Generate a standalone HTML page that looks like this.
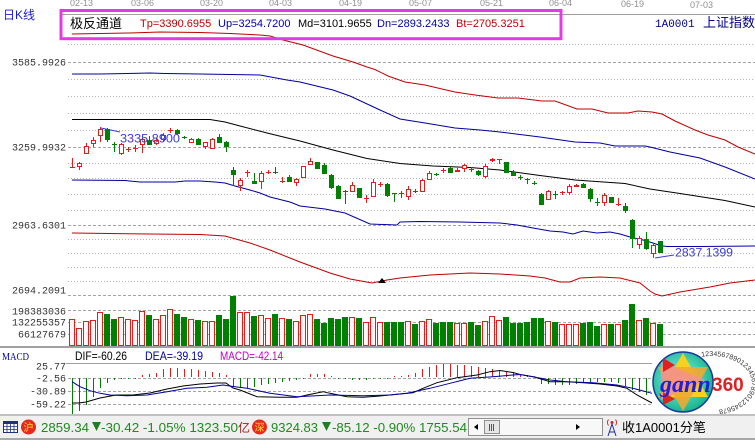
<!DOCTYPE html>
<html><head><meta charset="utf-8"><style>
html,body{margin:0;padding:0;background:#fff;overflow:hidden}
svg{display:block}
</style></head><body>
<svg xmlns="http://www.w3.org/2000/svg" width="755" height="440" viewBox="0 0 755 440" font-family="Liberation Sans, Noto Sans CJK SC, sans-serif">
<defs>
<radialGradient id="lg" cx=".45" cy=".45" r=".6"><stop offset="0" stop-color="#8ff0ff"/><stop offset="1" stop-color="#10b080"/></radialGradient>
</defs>
<rect width="755" height="440" fill="#fff"/>

<!-- date labels -->
<g font-size="9" fill="#909090">
<text x="70" y="6">02-13</text><text x="131" y="6">03-06</text><text x="200" y="6">03-20</text><text x="269" y="6">04-03</text><text x="339" y="6">04-19</text><text x="409" y="6">05-07</text><text x="480" y="6">05-21</text><text x="549" y="6">06-04</text><text x="621" y="7">06-19</text><text x="690" y="8">07-03</text>
</g>
<path d="M62 14.5H755" stroke="#a0a0a0"/>
<text x="3" y="19" font-size="12" fill="#1c1ccc">日K线</text>

<!-- grid -->
<g stroke="#b4b4b4" stroke-dasharray="1 2" shape-rendering="crispEdges">
<path d="M68 44.5H755M68 79.5H755M68 96.5H755M68 113.5H755M68 130.5H755M68 163.5H755M68 178.5H755M68 194.5H755M68 210.5H755M68 239.5H755M68 253.5H755M68 267.5H755M68 281.5H755"/>
</g>
<g stroke="#a4a4a4" stroke-dasharray="3 2" shape-rendering="crispEdges">
<path d="M68 62.5H755M68 147.5H755M68 225.5H755M68 295.5H755M68 310.5H755M68 322.5H755M68 334.5H755M68 378.5H652M68 391.5H652M68 404.5H652"/>
</g>
<path d="M66 363.5H652" stroke="#a0a0a0" shape-rendering="crispEdges"/>

<!-- axis labels -->
<g font-family="Liberation Mono, monospace" font-size="10" fill="#333" text-anchor="end">
<text x="66" y="65.5">3585.9926</text>
<text x="66" y="150.5">3259.9932</text>
<text x="66" y="228.5">2963.6301</text>
<text x="66" y="293.5">2694.2091</text>
<text x="66" y="314.5">198383036</text>
<text x="66" y="325.5">132255357</text>
<text x="66" y="337.5">66127679</text>
<text x="66" y="369.5">25.77</text>
<text x="66" y="381.5">-2.56</text>
<text x="66" y="394.5">-30.89</text>
<text x="66" y="407.5">-59.22</text>
</g>

<!-- channel lines -->
<g fill="none" stroke-width="1">
<polyline stroke="#c00000" points="72,34 100,33.5 130,33 160,32 200,32.5 230,33.5 260,35 270,36 283,40 303,45 333,56 353,62 367,67 375,69.5 388,76 405,82 425,85 442,89 455,92 475,95 498,98 518,98 542,101 555,101 577,109 592,109 608,113 628,113 638,111 652,112 662,114 675,121 695,130 708,135 725,140 738,147 755,154"/>
<polyline stroke="#0000a0" points="72,74 100,74 150,73 165,73.5 200,74 230,74.5 260,75 287,80 300,82 333,90 350,96 365,103 380,110 400,119 425,123 455,128 480,130 500,132 540,137 575,142 600,143 615,146 645,146 650,147 670,152 700,158 725,167 755,179"/>
<polyline stroke="#000" points="72,119.5 210,119.5 225,122 240,126 267,133 300,141 333,150 367,158.5 400,163.5 433,166 470,167.5 500,170 540,175.5 575,180 625,183.5 650,189 680,193.5 725,200.5 755,207"/>
<polyline stroke="#0000a0" points="72,180 125,180.5 140,182 175,182 185,181 200,181 215,182 225,183 235,186 250,190 260,193 270,197 290,202 300,206 325,209 345,213 370,224 397,225 400,222 420,221.5 460,222 500,223 517,225 533,228 550,231 563,232 573,234 583,231 597,233 610,232 620,234 630,237 643,240 653,243 660,245.5 667,246.5 700,246.5 755,246"/>
<polyline stroke="#c00000" points="72,233 150,234 200,234.5 225,236 250,243 270,250 300,262 330,273 350,279 372,283 387,280 400,278 430,275 470,273 500,274 530,276 545,278 560,282 570,282 580,278 600,277 620,278 640,283 650,291 655,294 662,296 680,292 710,287 730,283 755,280"/>
</g>
<polygon points="378,283 386,283 382,278" fill="#000"/>

<!-- candles -->
<g shape-rendering="crispEdges">
<path stroke="#008000" fill="none" d="M107.5 128V142M114.5 142V152M149.5 136V145M177.5 129V135M184.5 136V139M198.5 138V145M219.5 134V143M226.5 141V152M233.5 167V186M254.5 173V184M275.5 167V174M289.5 175V182M317.5 162V168M324.5 163V174M331.5 174V189M338.5 185V198M345.5 190V204M359.5 188V198M387.5 183V197M394.5 193V202M401.5 191V198M415.5 189V193M436.5 173V176M450.5 167V173M471.5 167V172M478.5 170V176M506.5 162V172M513.5 170V176M520.5 175V180M527.5 178V184M534.5 181V185M541.5 193V205M555.5 191V199M583.5 183V187M590.5 188V202M597.5 198V206M611.5 197V203M625.5 203V213M632.5 219V248M646.5 232V250M660.5 241V253"/>
<path fill="#008000" d="M105 129h5V140h-5ZM112 144h5v1h-5ZM147 140h5V145h-5ZM175 130h5V134h-5ZM182 137h5v1h-5ZM196 139h5V145h-5ZM217 137h5V143h-5ZM224 142h5V147h-5ZM231 170h5V175h-5ZM252 181h5V184h-5ZM273 172h5v1h-5ZM287 177h5V182h-5ZM315 162h5V169h-5ZM322 165h5V174h-5ZM329 175h5V188h-5ZM336 186h5V199h-5ZM343 191h5v1h-5ZM357 188h5V198h-5ZM385 184h5V196h-5ZM392 193h5v1h-5ZM399 193h5v1h-5ZM413 191h5v1h-5ZM434 174h5v1h-5ZM448 168h5V173h-5ZM469 169h5v1h-5ZM476 171h5V175h-5ZM504 162h5V173h-5ZM511 172h5V176h-5ZM518 177h5v1h-5ZM525 179h5v1h-5ZM532 183h5v1h-5ZM539 194h5V205h-5ZM553 194h5v1h-5ZM581 184h5V188h-5ZM588 189h5V199h-5ZM595 202h5v1h-5ZM609 197h5V203h-5ZM623 206h5V211h-5ZM630 220h5V239h-5ZM644 239h5V249h-5ZM658 241h5V253h-5Z"/>
<path stroke="#e41c1c" fill="none" d="M72.5 158V168M79.5 162V170M86.5 143V153M93.5 137V147M100.5 127V142M121.5 143V155M128.5 147V152M135.5 145V152M142.5 138V153M156.5 138V145M163.5 133V142M170.5 128V133M191.5 138V143M205.5 142V149M212.5 138V148M240.5 178V191M247.5 170V177M261.5 171V189M268.5 170V174M282.5 177V183M296.5 178V186M303.5 166V178M310.5 158V165M352.5 182V192M366.5 195V203M373.5 179V197M380.5 182V187M408.5 186V200M422.5 179V192M429.5 171V180M443.5 168V173M457.5 168V172M464.5 164V172M485.5 164V178M492.5 158V162M499.5 159V164M548.5 190V200M562.5 191V195M569.5 184V195M576.5 184V187M604.5 193V206M618.5 198V206M639.5 236V249M653.5 244V258"/>
<path stroke="#e41c1c" fill="#fff" d="M77.5 163.5h4V166.5h-4ZM84.5 146.5h4V153.5h-4ZM91.5 140.5h4V143.5h-4ZM98.5 129.5h4V135.5h-4ZM119.5 144.5h4V153.5h-4ZM140.5 139.5h4V144.5h-4ZM154.5 140.5h4V143.5h-4ZM161.5 135.5h4V139.5h-4ZM189.5 139.5h4V142.5h-4ZM203.5 142.5h4V146.5h-4ZM210.5 139.5h4V148.5h-4ZM238.5 180.5h4V185.5h-4ZM259.5 173.5h4V181.5h-4ZM294.5 179.5h4V182.5h-4ZM301.5 166.5h4V177.5h-4ZM308.5 161.5h4V164.5h-4ZM350.5 185.5h4V191.5h-4ZM371.5 182.5h4V196.5h-4ZM406.5 189.5h4V196.5h-4ZM420.5 180.5h4V191.5h-4ZM427.5 173.5h4V179.5h-4ZM462.5 165.5h4V168.5h-4ZM483.5 166.5h4V176.5h-4ZM546.5 191.5h4V199.5h-4ZM567.5 186.5h4V192.5h-4ZM602.5 195.5h4V202.5h-4ZM637.5 238.5h4V244.5h-4ZM651.5 245.5h4V253.5h-4Z"/>
<path fill="#e41c1c" d="M70 167h5v1h-5ZM126 149h5v1h-5ZM133 148h5v1h-5ZM168 130h5v1h-5ZM245 172h5v1h-5ZM266 172h5v1h-5ZM280 181h5v1h-5ZM364 198h5v1h-5ZM378 184h5v1h-5ZM441 170h5v1h-5ZM455 170h5v2h-5ZM490 159h5v2h-5ZM497 159h5v1h-5ZM560 192h5v1h-5ZM574 185h5v2h-5ZM616 204h5v1h-5Z"/>
</g>

<!-- price annotations -->
<path d="M101 128L120 132M655 258L674 255" stroke="#3c3cd0" fill="none"/>
<text x="120" y="142.5" font-size="12" fill="#3c3cd0" textLength="60" lengthAdjust="spacingAndGlyphs">3335.8900</text>
<text x="675" y="256.5" font-size="12" fill="#3c3cd0" textLength="58" lengthAdjust="spacingAndGlyphs">2837.1399</text>

<!-- volume -->
<g shape-rendering="crispEdges">
<path fill="#008000" d="M104 314h6V346h-6ZM111 319h6V346h-6ZM146 315h6V346h-6ZM174 314h6V346h-6ZM181 317h6V346h-6ZM195 320h6V346h-6ZM216 315h6V346h-6ZM223 319h6V346h-6ZM230 296h6V346h-6ZM251 316h6V346h-6ZM272 314h6V346h-6ZM286 319h6V346h-6ZM314 319h6V346h-6ZM321 323h6V346h-6ZM328 318h6V346h-6ZM335 319h6V346h-6ZM342 317h6V346h-6ZM356 318h6V346h-6ZM384 322h6V346h-6ZM391 322h6V346h-6ZM398 322h6V346h-6ZM412 324h6V346h-6ZM433 323h6V346h-6ZM440 322h6V346h-6ZM447 322h6V346h-6ZM468 322h6V346h-6ZM475 325h6V346h-6ZM503 317h6V346h-6ZM510 323h6V346h-6ZM517 323h6V346h-6ZM524 322h6V346h-6ZM531 318h6V346h-6ZM538 318h6V346h-6ZM552 322h6V346h-6ZM580 323h6V346h-6ZM587 322h6V346h-6ZM594 326h6V346h-6ZM608 324h6V346h-6ZM622 320h6V346h-6ZM629 304h6V346h-6ZM643 318h6V346h-6ZM657 324h6V346h-6Z"/>
<path stroke="#e41c1c" fill="#fff5f5" d="M69.5 319.5h5V345.5h-5ZM76.5 328.5h5V345.5h-5ZM83.5 321.5h5V345.5h-5ZM90.5 320.5h5V345.5h-5ZM97.5 312.5h5V345.5h-5ZM118.5 317.5h5V345.5h-5ZM125.5 319.5h5V345.5h-5ZM132.5 320.5h5V345.5h-5ZM139.5 311.5h5V345.5h-5ZM153.5 319.5h5V345.5h-5ZM160.5 315.5h5V345.5h-5ZM167.5 309.5h5V345.5h-5ZM188.5 319.5h5V345.5h-5ZM202.5 321.5h5V345.5h-5ZM209.5 321.5h5V345.5h-5ZM237.5 312.5h5V345.5h-5ZM244.5 312.5h5V345.5h-5ZM258.5 315.5h5V345.5h-5ZM265.5 318.5h5V345.5h-5ZM279.5 318.5h5V345.5h-5ZM293.5 321.5h5V345.5h-5ZM300.5 315.5h5V345.5h-5ZM307.5 314.5h5V345.5h-5ZM349.5 317.5h5V345.5h-5ZM363.5 322.5h5V345.5h-5ZM370.5 317.5h5V345.5h-5ZM377.5 322.5h5V345.5h-5ZM405.5 321.5h5V345.5h-5ZM419.5 321.5h5V345.5h-5ZM426.5 319.5h5V345.5h-5ZM454.5 323.5h5V345.5h-5ZM461.5 323.5h5V345.5h-5ZM482.5 321.5h5V345.5h-5ZM489.5 316.5h5V345.5h-5ZM496.5 320.5h5V345.5h-5ZM545.5 321.5h5V345.5h-5ZM559.5 324.5h5V345.5h-5ZM566.5 324.5h5V345.5h-5ZM573.5 324.5h5V345.5h-5ZM601.5 324.5h5V345.5h-5ZM615.5 324.5h5V345.5h-5ZM636.5 320.5h5V345.5h-5ZM650.5 323.5h5V345.5h-5Z"/>
</g>
<rect x="0" y="346" width="755" height="2" fill="#a0a0a0"/>

<!-- MACD header -->
<text x="2" y="360" font-family="Liberation Serif, serif" font-size="10.5" fill="#0000b0" textLength="27" lengthAdjust="spacingAndGlyphs">MACD</text>
<text x="75" y="360" font-size="11.5" fill="#000" textLength="52" lengthAdjust="spacingAndGlyphs">DIF=-60.26</text>
<text x="145" y="360" font-size="11.5" fill="#0000a0" textLength="58" lengthAdjust="spacingAndGlyphs">DEA=-39.19</text>
<text x="220" y="360" font-size="11.5" fill="#c000c0" textLength="63" lengthAdjust="spacingAndGlyphs">MACD=-42.14</text>

<!-- MACD histogram -->
<g shape-rendering="crispEdges" fill="none">
<path stroke="#008000" d="M72.5 378V416M79.5 378V411M86.5 378V405M93.5 378V397M100.5 378V388M107.5 378V383M114.5 378V380M121.5 378V379M128.5 378V379M135.5 378V379M233.5 378V387M240.5 378V388M247.5 378V388M254.5 378V387M261.5 378V385M268.5 378V384M275.5 378V383M282.5 378V382M289.5 378V381M296.5 378V380M303.5 378V379M338.5 378V379M345.5 378V379M352.5 378V380M359.5 378V380M366.5 378V380M373.5 378V379M380.5 378V379M387.5 378V379M541.5 378V384M548.5 378V384M555.5 378V385M562.5 378V385M569.5 378V385M576.5 378V384M583.5 378V383M590.5 378V382M597.5 378V382M604.5 378V382M611.5 378V382M618.5 378V383M625.5 378V386M632.5 378V390M639.5 378V392M646.5 378V395"/>
<path stroke="#e41c1c" d="M142.5 377V375M149.5 377V374M156.5 377V373M163.5 377V369M170.5 377V368M177.5 377V368M184.5 377V369M191.5 377V369M198.5 377V370M205.5 377V371M212.5 377V372M219.5 377V373M226.5 377V375M310.5 377V374M317.5 377V374M324.5 377V374M331.5 377V376M394.5 377V376M401.5 377V376M408.5 377V375M415.5 377V373M422.5 377V369M429.5 377V367M436.5 377V365M443.5 377V364M450.5 377V364M457.5 377V365M464.5 377V365M471.5 377V366M478.5 377V367M485.5 377V368M492.5 377V369M499.5 377V370M506.5 377V372M513.5 377V373M520.5 377V374M527.5 377V375M534.5 377V376"/>
</g>
<g fill="none">
<polyline stroke="#000" points="72,403 79,403 86,402 93,400 100,398 116,395 133,395 150,393 167,389 183,386 200,384 217,383 226,383 233,388 240,390 257,396.7 280,397.3 297,397.3 307,395 323,391.7 330,393.3 347,396.7 363,397.3 380,396 397,394.3 413,392.7 423,388.3 437,382.7 457,377.7 477,375 490,371.7 500,370.5 513,372.5 520,374.5 533,376.7 550,381.7 567,381.7 583,382.7 600,384 617,386 627,388.3 637,395 652,403"/>
<polyline stroke="#0000a0" points="72,381.7 80,386.7 90,390.7 100,393.3 110,395 127,395.7 147,395 167,391.7 187,388.3 207,387.3 223,385 233,386.5 247,388.3 270,393.3 297,396.7 330,395 363,395.7 390,395 407,393.3 430,388.3 450,383.3 470,378.3 493,376.7 513,375 520,374.5 533,376.7 550,380 567,381.7 593,382.7 617,385 633,388.3 652,393.3"/>
</g>

<!-- gann360 logo -->
<rect x="652" y="349" width="103" height="64" fill="#fff"/>
<circle cx="683" cy="382" r="30" fill="url(#lg)" stroke="#1838a0" stroke-width="1.5"/>
<polygon points="683,353 708,397 658,397" fill="#f8d020"/>
<polygon points="683,411 708,367 658,367" fill="#f0a830" opacity="0.9"/>
<polygon points="661,362 705,380 661,400" fill="#f49090" opacity="0.85"/>
<polygon points="663,358 675,365 663,372" fill="#e02020"/>
<polygon points="663,392 675,399 663,405" fill="#e02020"/>
<text x="660" y="392" font-family="Liberation Serif, serif" font-style="italic" font-weight="bold" font-size="24" fill="#2020d8">gann</text>
<text x="712" y="391" font-weight="bold" font-size="19" fill="#e02020">360</text>
<path id="rp" d="M701.6 356.9 A40 27 0 1 1 705 409.6" fill="none"/>
<text font-size="7" fill="#333"><textPath href="#rp">1234567890123456789012345678</textPath></text>

<!-- status bar -->
<rect x="0" y="414" width="755" height="26" fill="#f0f0f0"/>
<rect x="0" y="414" width="755" height="2" fill="#c0c0c0"/>
<rect x="0" y="438" width="755" height="2" fill="#a8a8a8"/>
<rect x="3.5" y="421.5" width="14" height="11" fill="#fff" stroke="#203080"/>
<rect x="4" y="422" width="13" height="2" fill="#203080"/>
<path d="M3.5 426.5h14M3.5 429.5h14M7 424v9M10.5 424v9M14 424v9" stroke="#203080" stroke-width=".8"/>
<circle cx="28.5" cy="427" r="7.5" fill="#e52a1a"/>
<text x="28.5" y="431" font-size="10" fill="#ffe040" text-anchor="middle">沪</text>
<g font-size="13" fill="#1f8a1f">
<text x="41" y="432" textLength="48" lengthAdjust="spacingAndGlyphs">2859.34</text>
<text x="101" y="432" textLength="137" lengthAdjust="spacingAndGlyphs">-30.42 -1.05% 1323.50</text>
<text x="271" y="432" textLength="47" lengthAdjust="spacingAndGlyphs">9324.83</text>
<text x="332" y="432" textLength="135" lengthAdjust="spacingAndGlyphs">-85.12 -0.90% 1755.54</text>
</g>
<polygon points="92,422 101,422 96.5,431" fill="#1f7f1f"/>
<polygon points="322,422 331,422 326.5,431" fill="#1f7f1f"/>
<text x="238" y="432" font-size="12" fill="#a02020">亿</text>
<circle cx="259.5" cy="427" r="7.5" fill="#e52a1a"/>
<text x="259.5" y="431" font-size="10" fill="#ffe040" text-anchor="middle">深</text>
<rect x="468.5" y="418.5" width="134" height="17" fill="#f8f8f8" stroke="#909090"/>
<polygon points="474,427 478,424 478,430" fill="#000"/>
<rect x="484.5" y="420.5" width="15" height="13" fill="#e6e6e6" stroke="#909090"/>
<path d="M489.5 424v7M491.5 424v7M493.5 424v7" stroke="#555"/>
<polygon points="576,424 576,430 580,427" fill="#000"/>
<path d="M612 424L608 436M612 424L616 436M609 432h6" stroke="#2030a0" fill="none"/>
<circle cx="612" cy="422.5" r="1.5" fill="#d02020"/>
<path d="M608.5 419.5a5 5 0 0 0 0 6M615.5 419.5a5 5 0 0 1 0 6" stroke="#d02020" fill="none"/>
<text x="622" y="432" font-size="13" fill="#000">收1A0001分笔</text>

<!-- header box -->
<rect x="61" y="10.5" width="500" height="28.2" fill="none" stroke="#e33be3" stroke-width="3"/>
<text x="70" y="28" font-size="13" fill="#000">极反通道</text>
<g font-size="11">
<text x="140" y="27" fill="#c00000">Tp=3390.6955</text>
<text x="218" y="27" fill="#0000a0">Up=3254.7200</text>
<text x="298" y="27" fill="#000">Md=3101.9655</text>
<text x="377" y="27" fill="#0000a0">Dn=2893.2433</text>
<text x="456" y="27" fill="#c00000">Bt=2705.3251</text>
</g>
<text x="655" y="27" font-family="Liberation Mono, monospace" font-size="11" fill="#000080">1A0001</text>
<text x="703" y="27" font-size="13" fill="#000080">上证指数</text>
</svg>
</body></html>
